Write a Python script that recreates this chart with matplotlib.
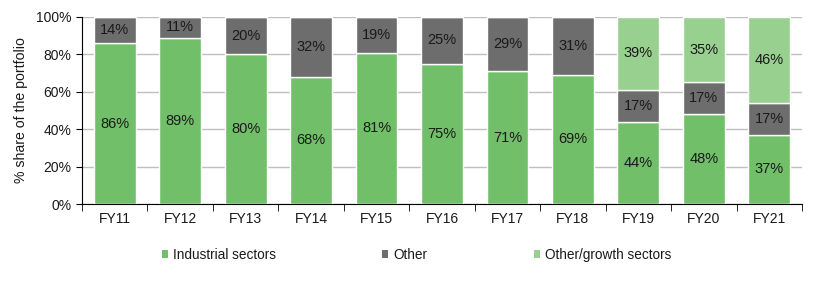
import matplotlib
matplotlib.use("Agg")
import matplotlib.pyplot as plt
import numpy as np
from matplotlib.patches import Patch
from matplotlib.ticker import FuncFormatter

plt.rcParams['font.family'] = ['Liberation Sans', 'DejaVu Sans']

categories = ["FY11", "FY12", "FY13", "FY14", "FY15", "FY16", "FY17", "FY18", "FY19", "FY20", "FY21"]
industrial = [86, 89, 80, 68, 81, 75, 71, 69, 44, 48, 37]
other = [14, 11, 20, 32, 19, 25, 29, 31, 17, 17, 17]
growth = [0, 0, 0, 0, 0, 0, 0, 0, 39, 35, 46]
series_names = ["Industrial sectors", "Other", "Other/growth sectors"]
colors = ["#72BF6A", "#6D6D6D", "#98D18F"]

fig = plt.figure(figsize=(8.36, 3.06), dpi=100)
ax = fig.add_axes([82/836, 1 - 204/306, 720/836, 187/306])

x = np.arange(len(categories))
bottom = np.zeros(len(categories))
for vals, col in zip([industrial, other, growth], colors):
    vals = np.array(vals, dtype=float)
    ax.bar(x, vals, bottom=bottom, width=0.64, color=col, edgecolor="white", linewidth=1.0, zorder=3)
    for xi, v, b in zip(x, vals, bottom):
        if v > 0:
            ax.text(xi, b + v / 2, f"{int(v)}%", ha="center", va="center", fontsize=10.5, color="#1a1a1a", zorder=4)
    bottom += vals

ax.set_xlim(-0.5, len(categories) - 0.5)
ax.set_ylim(0, 100)
ax.set_yticks(np.arange(0, 101, 20))
ax.yaxis.set_major_formatter(FuncFormatter(lambda v, p: f"{int(v)}%"))
ax.set_xticks(x)
ax.set_xticklabels(categories)
ax.set_xticks(np.arange(-0.5, len(categories), 1), minor=True)
ax.tick_params(axis="x", which="major", length=0, labelsize=10, pad=6, labelcolor="#1a1a1a")
ax.tick_params(axis="x", which="minor", length=5, direction="out", color="black")
ax.tick_params(axis="y", length=4, direction="out", labelsize=10, color="black", labelcolor="#1a1a1a")
ax.grid(axis="y", color="#BFBFBF", linewidth=1.0, zorder=0)
ax.set_axisbelow(True)
for s in ["top", "right"]:
    ax.spines[s].set_visible(False)
ax.spines["left"].set_color("black")
ax.spines["bottom"].set_color("black")
ax.set_ylabel("% share of the portfolio", fontsize=10.2, labelpad=6, color="#1a1a1a")

legend_x = [162, 382, 534]
for name, col, lx in zip(series_names, colors, legend_x):
    leg = fig.legend([Patch(facecolor=col, edgecolor="none")], [name], loc="center left",
                     bbox_to_anchor=(lx / 836, 1 - 255 / 306), frameon=False, fontsize=9.8,
                     handlelength=0.45, handleheight=0.45, handletextpad=0.37,
                     borderpad=0, borderaxespad=0)
    for t in leg.get_texts():
        t.set_color("#1a1a1a")

fig.savefig("out.png", dpi=100)
